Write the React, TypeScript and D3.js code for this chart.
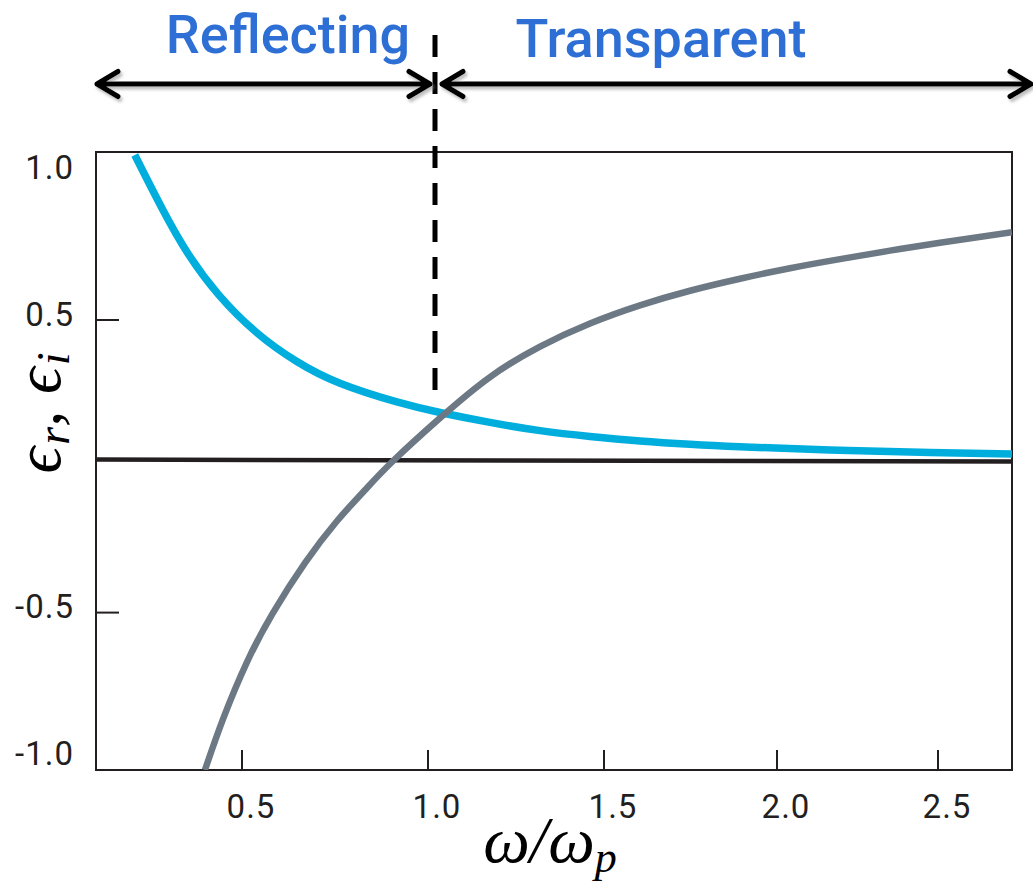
import React, { useEffect, useRef } from 'react';
import * as d3 from 'd3';

// tick values
const xTicks = [0.5, 1.0, 1.5, 2.0, 2.5];
const yTickLabels = [1.0, 0.5, -0.5, -1.0];
const yTickMarks = [0.5, -0.5];

// eps_i (blue)
const blueX = [0.212, 0.2876, 0.3575, 0.4382, 0.5376, 0.6452, 0.7634, 0.914, 1.0341, 1.1761, 1.3182, 1.4602, 1.604, 1.7486, 1.8931, 2.1646, 2.4752, 2.7298];
const blueY = [1.064, 0.876, 0.722, 0.585, 0.459, 0.360, 0.284, 0.221, 0.184, 0.150, 0.122, 0.102, 0.0865, 0.075, 0.0666, 0.0557, 0.0468, 0.042];

// eps_r (grey)
const greyX = [0.4005, 0.449, 0.5134, 0.5833, 0.6694, 0.7554, 0.8306, 0.9059, 1.0341, 1.1761, 1.3182, 1.4602, 1.604, 1.7486, 1.8931, 2.0404, 2.1957, 2.3509, 2.5062, 2.7298];
const greyY = [-1.038, -0.864, -0.669, -0.501, -0.330, -0.187, -0.081, 0.018, 0.165, 0.305, 0.409, 0.488, 0.550, 0.600, 0.641, 0.677, 0.708, 0.737, 0.764, 0.800];

// zero line (drawn slightly off level in the original)
const baseX = [0.108, 2.73];
const baseY = [0.023, 0.016];

const regionLabels = ['Reflecting', 'Transparent'];

export default function App() {
    const ref = useRef<SVGSVGElement>(null);

    useEffect(() => {
        if (!ref.current) return;
        const svg = d3.select(ref.current);
        svg.selectAll('*').remove();

        const frame = { left: 96, right: 1012, top: 152, bottom: 770 };
        // axis ticks in the picture are not evenly spaced, so use a piecewise scale
        const x = d3.scaleLinear()
            .domain([0.108, 0.5, 1.0, 1.5, 2.0, 2.5, 2.73])
            .range([96, 242, 428, 604, 777, 938, 1012]);
        const y = d3.scaleLinear().domain([-1, 1]).range([758.9, 173.7]);

        const defs = svg.append('defs');
        defs.append('clipPath').attr('id', 'plotclip')
            .append('rect')
            .attr('x', frame.left).attr('y', frame.top)
            .attr('width', frame.right - frame.left).attr('height', frame.bottom - frame.top);
        const shadow = defs.append('filter').attr('id', 'arrowshadow')
            .attr('x', '-5%').attr('y', '-50%').attr('width', '110%').attr('height', '200%');
        shadow.append('feDropShadow')
            .attr('dx', 2).attr('dy', 3).attr('stdDeviation', 1.5)
            .attr('flood-color', '#888').attr('flood-opacity', 0.55);

        const ink = '#231f20';

        // frame
        svg.append('rect')
            .attr('x', frame.left).attr('y', frame.top)
            .attr('width', frame.right - frame.left).attr('height', frame.bottom - frame.top)
            .attr('fill', 'none').attr('stroke', ink).attr('stroke-width', 2);

        // y ticks (inward) + labels
        svg.selectAll('.ytick').data(yTickMarks).enter().append('line')
            .attr('x1', frame.left).attr('x2', frame.left + 23)
            .attr('y1', d => y(d)).attr('y2', d => y(d))
            .attr('stroke', ink).attr('stroke-width', 2);
        svg.selectAll('.ylab').data(yTickLabels).enter().append('text')
            .attr('x', 74).attr('y', d => y(d) - 3)
            .attr('text-anchor', 'end').attr('dominant-baseline', 'middle')
            .style('font-family', 'Roboto, sans-serif').style('font-size', '33px')
            .style('letter-spacing', '1px')
            .attr('fill', ink)
            .text(d => d.toFixed(1));

        // x ticks (inward) + labels
        svg.selectAll('.xtick').data(xTicks).enter().append('line')
            .attr('x1', d => x(d)).attr('x2', d => x(d))
            .attr('y1', frame.bottom).attr('y2', frame.bottom - 20)
            .attr('stroke', ink).attr('stroke-width', 2);
        svg.selectAll('.xlab').data(xTicks).enter().append('text')
            .attr('x', d => x(d) + 9).attr('y', 818)
            .attr('text-anchor', 'middle')
            .style('font-family', 'Roboto, sans-serif').style('font-size', '33px')
            .style('letter-spacing', '1px')
            .attr('fill', ink)
            .text(d => d.toFixed(1));

        const plot = svg.append('g').attr('clip-path', 'url(#plotclip)');
        const line = d3.line<[number, number]>()
            .x(d => x(d[0])).y(d => y(d[1]))
            .curve(d3.curveNatural);

        plot.append('path')
            .attr('d', line(baseX.map((v, i) => [v, baseY[i]])))
            .attr('fill', 'none').attr('stroke', ink).attr('stroke-width', 4.5);
        plot.append('path')
            .attr('d', line(blueX.map((v, i) => [v, blueY[i]])))
            .attr('fill', 'none').attr('stroke', '#00aede').attr('stroke-width', 7.5);
        plot.append('path')
            .attr('d', line(greyX.map((v, i) => [v, greyY[i]])))
            .attr('fill', 'none').attr('stroke', '#6c7984').attr('stroke-width', 6.5);

        // dashed plasma-frequency divider
        svg.append('line')
            .attr('x1', 435).attr('x2', 435).attr('y1', 35).attr('y2', 391)
            .attr('stroke', '#000').attr('stroke-width', 5)
            .attr('stroke-dasharray', '22 15');

        // double arrows
        const arrowY = 84;
        const arrows = [[97, 430], [442, 1031]];
        const ag = svg.append('g').attr('filter', 'url(#arrowshadow)');
        arrows.forEach(([a, b]) => {
            ag.append('path')
                .attr('d', `M${a},${arrowY}H${b}M${a + 21},${arrowY - 12.5}L${a},${arrowY}L${a + 21},${arrowY + 12.5}M${b - 21},${arrowY - 12.5}L${b},${arrowY}L${b - 21},${arrowY + 12.5}`)
                .attr('fill', 'none').attr('stroke', '#000').attr('stroke-width', 5)
                .attr('stroke-linecap', 'round').attr('stroke-linejoin', 'round');
        });

        svg.selectAll('.region').data(regionLabels).enter().append('text')
            .attr('x', (d, i) => (i === 0 ? 288 : 661)).attr('y', (d, i) => (i === 0 ? 53 : 57))
            .attr('text-anchor', 'middle')
            .style('font-family', 'Roboto, sans-serif').style('font-size', '54px')
            .style('font-weight', 500)
            .attr('fill', '#2d6fd5')
            .text(d => d);

        // axis titles (math italic)
        const mathFont = '"Liberation Serif", "DejaVu Serif", serif';
        const yl = svg.append('text')
            .attr('transform', 'translate(60,413) rotate(-90)')
            .attr('text-anchor', 'middle')
            .style('font-family', mathFont).style('font-style', 'italic').style('font-size', '66px')
            .attr('fill', '#000');
        yl.append('tspan').text('ϵ');
        yl.append('tspan').attr('dy', 9).attr('dx', 2).style('font-size', '46px').text('r');
        yl.append('tspan').attr('dy', -9).text(', ϵ');
        yl.append('tspan').attr('dy', 9).attr('dx', 2).style('font-size', '46px').text('i');

        const xl = svg.append('text')
            .attr('x', 550).attr('y', 862)
            .attr('text-anchor', 'middle')
            .style('font-family', mathFont).style('font-style', 'italic').style('font-size', '66px')
            .attr('fill', '#000');
        xl.append('tspan').text('ω/ω');
        xl.append('tspan').attr('dy', 10).style('font-size', '44px').text('p');
    }, []);

    return (
        <svg ref={ref} width={1033} height={884}
            style={{ position: 'absolute', left: 0, top: 0, background: '#fff' }} />
    );
}
